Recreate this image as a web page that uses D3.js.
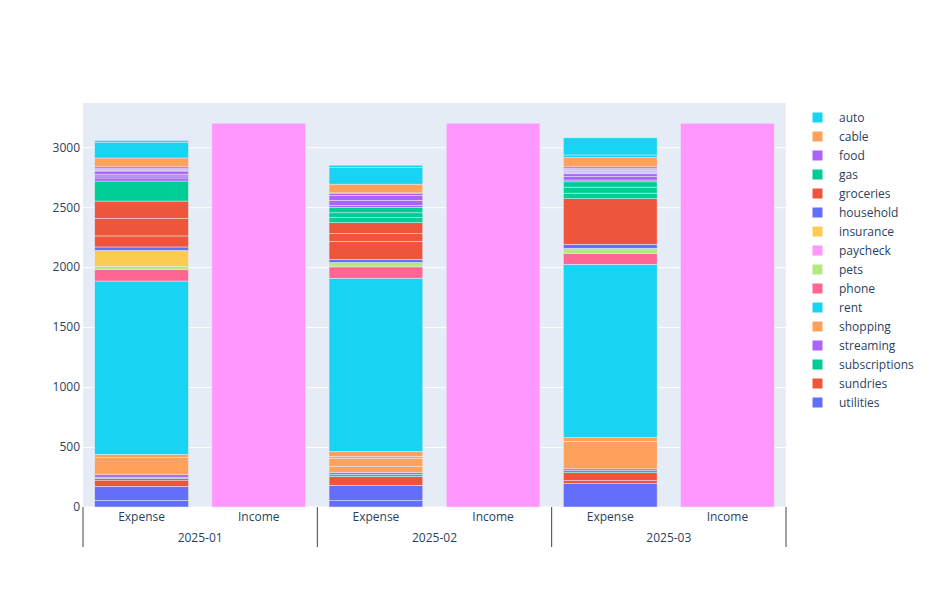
<!DOCTYPE html>
<html>
<head>
<meta charset="utf-8">
<script src="https://cdn.jsdelivr.net/npm/d3@7"></script>
<style>
body { margin: 0; background: #fff; }
text { font-family: "Open Sans", sans-serif; font-size: 12px; fill: #2a3f5f; }
</style>
</head>
<body>
<div id="chart"></div>
<script>
// x categories
var months = ["2025-01", "2025-02", "2025-03"];
var kinds = ["Expense", "Income"];
// legend order (top of legend = top of stack)
var categories = ["auto", "cable", "food", "gas", "groceries", "household", "insurance", "paycheck",
	"pets", "phone", "rent", "shopping", "streaming", "subscriptions", "sundries", "utilities"];
var incomeCategories = ["paycheck"];
var yTicks = [0, 500, 1000, 1500, 2000, 2500, 3000];

// transactions per month [jan, feb, mar], listed bottom to top inside the stack
var utilities     = [[54, 118], [54, 127], [195]];
var sundries      = [[47, 20], [73], [25, 66]];
var subscriptions = [[10], [18], [17]];
var streaming     = [[21], [17], [15]];
var shopping      = [[142, 27], [51, 67, 14, 42], [230, 31]];
var rent          = [[1445], [1445], [1445]];
var phone         = [[94], [94], [90]];
var pets          = [[28], [37], [43]];
var paycheck      = [[3200], [3200], [3200]];
var insurance     = [[133], [], []];
var household     = [[29], [25], [33]];
var groceries     = [[92, 145, 146], [150, 65, 92], [380]];
var gas           = [[167], [42, 40, 44], [47, 50, 44]];
var food          = [[25, 17, 15, 26, 7, 7, 6, 15], [16, 43, 42, 14, 7], [15, 32, 20, 6, 6, 6, 6, 6, 6, 10, 12]];
var cable         = [[74], [73], [78]];
var auto          = [[132, 14], [137, 21], [21, 143]];

var series = {auto: auto, cable: cable, food: food, gas: gas, groceries: groceries, household: household,
	insurance: insurance, paycheck: paycheck, pets: pets, phone: phone, rent: rent, shopping: shopping,
	streaming: streaming, subscriptions: subscriptions, sundries: sundries, utilities: utilities};

var width = 937, height = 591;
var margin = {top: 103, right: 151, bottom: 84, left: 83};
var plotW = width - margin.left - margin.right;
var plotH = height - margin.top - margin.bottom;

var stackOrder = categories.slice().reverse();
var color = d3.scaleOrdinal()
	.domain(stackOrder)
	.range(["#636efa", "#EF553B", "#00cc96", "#ab63fa", "#FFA15A", "#19d3f3", "#FF6692", "#B6E880", "#FF97FF", "#FECB52"]);

// build segments
var segments = [];
var totals = [];
months.forEach(function(m, mi) {
	kinds.forEach(function(k) {
		var base = 0;
		stackOrder.forEach(function(c) {
			var isIncome = incomeCategories.indexOf(c) >= 0;
			if ((k === "Income") !== isIncome) return;
			series[c][mi].forEach(function(v) {
				segments.push({month: m, kind: k, cat: c, y0: base, y1: base + v});
				base += v;
			});
		});
		totals.push(base);
	});
});

var svg = d3.select("#chart").append("svg")
	.attr("width", width)
	.attr("height", height);

var g = svg.append("g")
	.attr("transform", "translate(" + margin.left + "," + margin.top + ")");

g.append("rect")
	.attr("width", plotW)
	.attr("height", plotH)
	.attr("fill", "#E5ECF6");

var x0 = d3.scaleBand().domain(months).range([0, plotW]);
var x1 = d3.scaleBand().domain(kinds).range([0, x0.bandwidth()]).paddingInner(0.2).paddingOuter(0.1);
var y = d3.scaleLinear().domain([0, d3.max(totals) / 0.95]).range([plotH, 0]);

// y axis + grid
var yAxis = g.append("g")
	.call(d3.axisLeft(y).tickValues(yTicks).tickFormat(d3.format("d")).tickSize(-plotW).tickPadding(3));
yAxis.select(".domain").remove();
yAxis.selectAll("line").attr("stroke", "#fff").attr("stroke-width", function(d) { return d === 0 ? 2 : 1; });
yAxis.selectAll("text").attr("fill", "#2a3f5f").style("font-size", "12px").style("font-family", "Open Sans");

// bars
g.selectAll(".bar")
	.data(segments)
	.enter()
	.append("rect")
	.attr("class", "bar")
	.attr("x", function(d) { return x0(d.month) + x1(d.kind); })
	.attr("width", x1.bandwidth())
	.attr("y", function(d) { return y(d.y1); })
	.attr("height", function(d) { return y(d.y0) - y(d.y1); })
	.attr("fill", function(d) { return color(d.cat); })
	.attr("stroke", "#E5ECF6")
	.attr("stroke-width", 0.5);

// x axis: inner categories
months.forEach(function(m) {
	var ax = g.append("g")
		.attr("transform", "translate(" + x0(m) + "," + plotH + ")")
		.call(d3.axisBottom(x1).tickSize(0).tickPadding(5));
	ax.select(".domain").remove();
	ax.selectAll("text").attr("fill", "#2a3f5f").style("font-size", "12px").style("font-family", "Open Sans");
});

// x axis: outer groups
var gx = g.append("g")
	.attr("transform", "translate(0," + plotH + ")")
	.call(d3.axisBottom(x0).tickSize(0).tickPadding(26));
gx.select(".domain").remove();
gx.selectAll("text").attr("fill", "#2a3f5f").style("font-size", "12px").style("font-family", "Open Sans");

// group dividers
var dividers = months.map(function(m) { return x0(m); }).concat([plotW]);
g.selectAll(".divider")
	.data(dividers)
	.enter()
	.append("line")
	.attr("class", "divider")
	.attr("x1", function(d) { return d; })
	.attr("x2", function(d) { return d; })
	.attr("y1", plotH)
	.attr("y2", plotH + 40)
	.attr("stroke", "#444")
	.attr("stroke-width", 1);

// legend
var legend = svg.append("g")
	.attr("transform", "translate(812.5,117.5)");
var item = legend.selectAll(".item")
	.data(categories)
	.enter()
	.append("g")
	.attr("class", "item")
	.attr("transform", function(d, i) { return "translate(0," + (i * 19) + ")"; });
item.append("rect")
	.attr("x", 0)
	.attr("y", -5)
	.attr("width", 10)
	.attr("height", 10)
	.attr("fill", function(d) { return color(d); });
item.append("text")
	.attr("x", 26.5)
	.attr("dy", "0.35em")
	.text(function(d) { return d; });
</script>
</body>
</html>
